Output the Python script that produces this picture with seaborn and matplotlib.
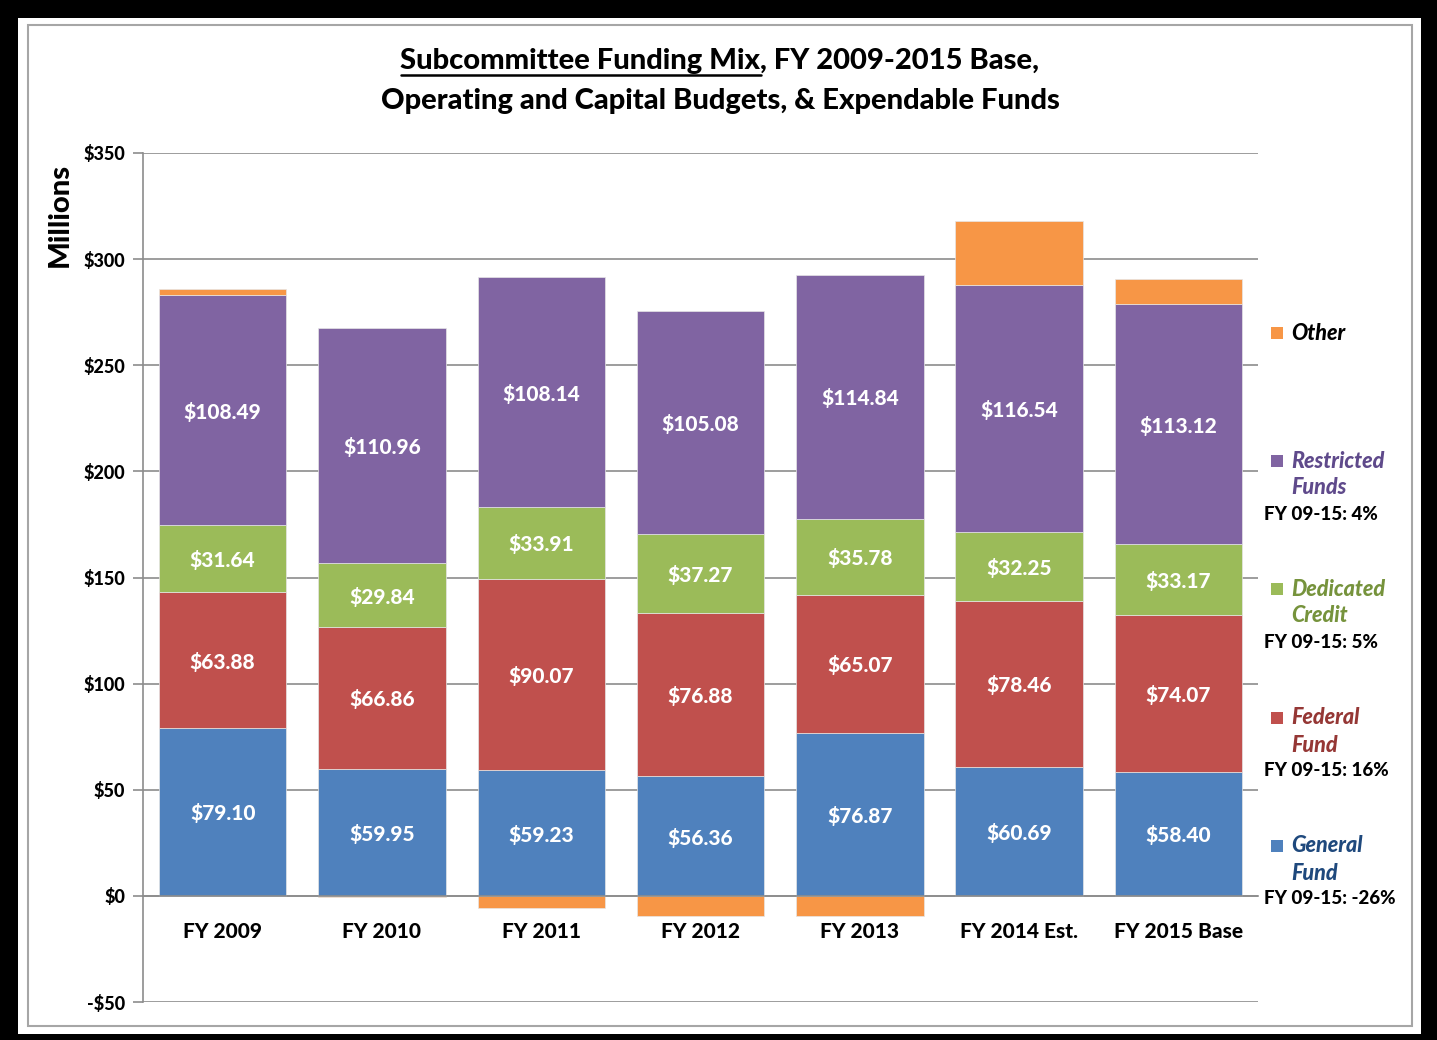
import matplotlib
matplotlib.use("Agg")
import matplotlib.pyplot as plt
import seaborn as sns
import pandas as pd
import numpy as np
from matplotlib.patches import Rectangle
from matplotlib.ticker import FixedLocator

# ---- data ----
years = ["FY 2009", "FY 2010", "FY 2011", "FY 2012", "FY 2013", "FY 2014 Est.", "FY 2015 Base"]
general = [79.10, 59.95, 59.23, 56.36, 76.87, 60.69, 58.40]
federal = [63.88, 66.86, 90.07, 76.88, 65.07, 78.46, 74.07]
dedicated = [31.64, 29.84, 33.91, 37.27, 35.78, 32.25, 33.17]
restricted = [108.49, 110.96, 108.14, 105.08, 114.84, 116.54, 113.12]
other = [2.9, -0.3, -5.7, -9.3, -9.3, 30.1, 11.9]
yticks = [-50, 0, 50, 100, 150, 200, 250, 300, 350]
ytick_labels = ["-$50", "$0", "$50", "$100", "$150", "$200", "$250", "$300", "$350"]
legend_names = ["Other", "Restricted\nFunds", "Dedicated\nCredit", "Federal\nFund", "General\nFund"]
legend_notes = [None, "FY 09-15: 4%", "FY 09-15: 5%", "FY 09-15: 16%", "FY 09-15: -26%"]

colors = {"General": "#4F81BD", "Federal": "#C0504D", "Dedicated": "#9BBB59",
          "Restricted": "#8064A2", "Other": "#F79646"}
text_colors = ["#000000", "#5F4A8B", "#76933C", "#953735", "#1F497D"]

sns.set_theme(style="white")
plt.rcParams['font.family'] = ['Lato', 'DejaVu Sans']
WT = 900
plt.rcParams['font.weight'] = WT

W, H = 1437, 1040
fig = plt.figure(figsize=(W / 100, H / 100), dpi=100, facecolor="black")

def fx(x):
    return x / W

def fy(y):
    return 1 - y / H

# white panel and inner gray frame
fig.patches.append(Rectangle((fx(18), fy(1034)), fx(1421 - 18), (1034 - 18) / H,
                             transform=fig.transFigure, facecolor="white", edgecolor="none", zorder=-2))
fig.patches.append(Rectangle((fx(28), fy(1026)), fx(1412 - 28), (1026 - 25) / H,
                             transform=fig.transFigure, facecolor="none", edgecolor="#A6A6A6",
                             linewidth=1.5, zorder=-1))

ax = fig.add_axes([fx(143), fy(1002), fx(1258 - 143), (1002 - 153) / H])
ax.set_facecolor("white")

df = pd.DataFrame({"year": years, "General": general, "Federal": federal,
                   "Dedicated": dedicated, "Restricted": restricted, "Other": other})

bottom = np.zeros(len(years))
for key in ["General", "Federal", "Dedicated", "Restricted"]:
    sns.barplot(data=df, x="year", y=key, order=years, color=colors[key], saturation=1,
                bottom=bottom.copy(), width=0.8, edgecolor="#E6E6E6", linewidth=0.5, ax=ax, zorder=3)
    vals = df[key].to_numpy()
    for i, v in enumerate(vals):
        ax.text(i, bottom[i] + v / 2, f"${v:.2f}", ha="center", va="center_baseline", color="white",
                fontsize=15, fontweight=WT, zorder=5)
    bottom = bottom + vals

oth = np.array(other)
other_bottom = np.where(oth > 0, bottom, 0.0)
sns.barplot(data=df, x="year", y="Other", order=years, color=colors["Other"], saturation=1,
            bottom=other_bottom, width=0.8, edgecolor="#E6E6E6", linewidth=0.5, ax=ax, zorder=3)

ax.set_xlim(-0.5, len(years) - 0.5)
ax.set_ylim(-50, 350)
ax.set_yticks(yticks)
ax.set_yticklabels(ytick_labels, fontsize=13, fontweight=WT)
ax.yaxis.grid(True, color="#8C8C8C", linewidth=1.2, zorder=0)
ax.set_axisbelow(True)
ax.set_xlabel("")
ax.set_ylabel("")

for s in ["top", "right"]:
    ax.spines[s].set_visible(False)
ax.spines["left"].set_color("#8C8C8C")
ax.spines["left"].set_linewidth(1.2)
ax.spines["bottom"].set_position(("data", 0))
ax.spines["bottom"].set_color("#8C8C8C")
ax.spines["bottom"].set_linewidth(1.2)
ax.spines["bottom"].set_zorder(4)

ax.set_xticks(range(len(years)))
ax.set_xticklabels(years, fontsize=15, fontweight=WT)
ax.tick_params(axis="x", which="major", length=0, pad=19, colors="black")
ax.xaxis.set_minor_locator(FixedLocator(np.arange(-0.5, len(years) + 0.5, 1.0)))
ax.tick_params(axis="x", which="minor", length=7, width=1.2, color="#8C8C8C", direction="out")
ax.tick_params(axis="y", which="major", length=7, width=1.2, color="#8C8C8C", direction="out",
               left=True, pad=6, labelcolor="black")

# y label
fig.text(fx(60), fy(215), "Millions", rotation=90, ha="center", va="center",
         fontsize=21, fontweight=WT, color="black")

# title with underline on first part
TS = 21
t1 = fig.text(0, fy(61), "Subcommittee Funding Mix", fontsize=TS, fontweight=WT,
              ha="left", va="center", color="black")
t2 = fig.text(0, fy(61), ", FY 2009-2015 Base,", fontsize=TS, fontweight=WT,
              ha="left", va="center", color="black")
fig.text(fx(720), fy(101), "Operating and Capital Budgets, & Expendable Funds", fontsize=TS,
         fontweight=WT, ha="center", va="center", color="black")
fig.canvas.draw()
r = fig.canvas.get_renderer()
w1 = t1.get_window_extent(r).width
w2 = t2.get_window_extent(r).width
x0 = 720 - (w1 + w2) / 2
t1.set_x(fx(x0))
t2.set_x(fx(x0 + w1))
fig.add_artist(plt.Line2D([fx(x0), fx(x0 + w1)], [fy(75), fy(75)], transform=fig.transFigure,
                          color="black", linewidth=1.8))

# legend (manual)
leg_y = [333, 461, 589, 718, 846]
for name, note, yv, key, tc in zip(legend_names, legend_notes, leg_y,
                                   ["Other", "Restricted", "Dedicated", "Federal", "General"], text_colors):
    fig.patches.append(Rectangle((fx(1271), fy(yv + 6)), fx(12), 12 / H, transform=fig.transFigure,
                                 facecolor=colors[key], edgecolor="none"))
    lines = name.split("\n")
    for k, ln in enumerate(lines):
        fig.text(fx(1291), fy(yv + 27 * k), ln, fontsize=15.5, fontweight=WT, style="italic",
                 color=tc, ha="left", va="center")
    if note:
        fig.text(fx(1264), fy(yv + 53), note, fontsize=13.5, fontweight=WT, color="black",
                 ha="left", va="center")

fig.savefig("out.png", dpi=100, facecolor=fig.get_facecolor())
